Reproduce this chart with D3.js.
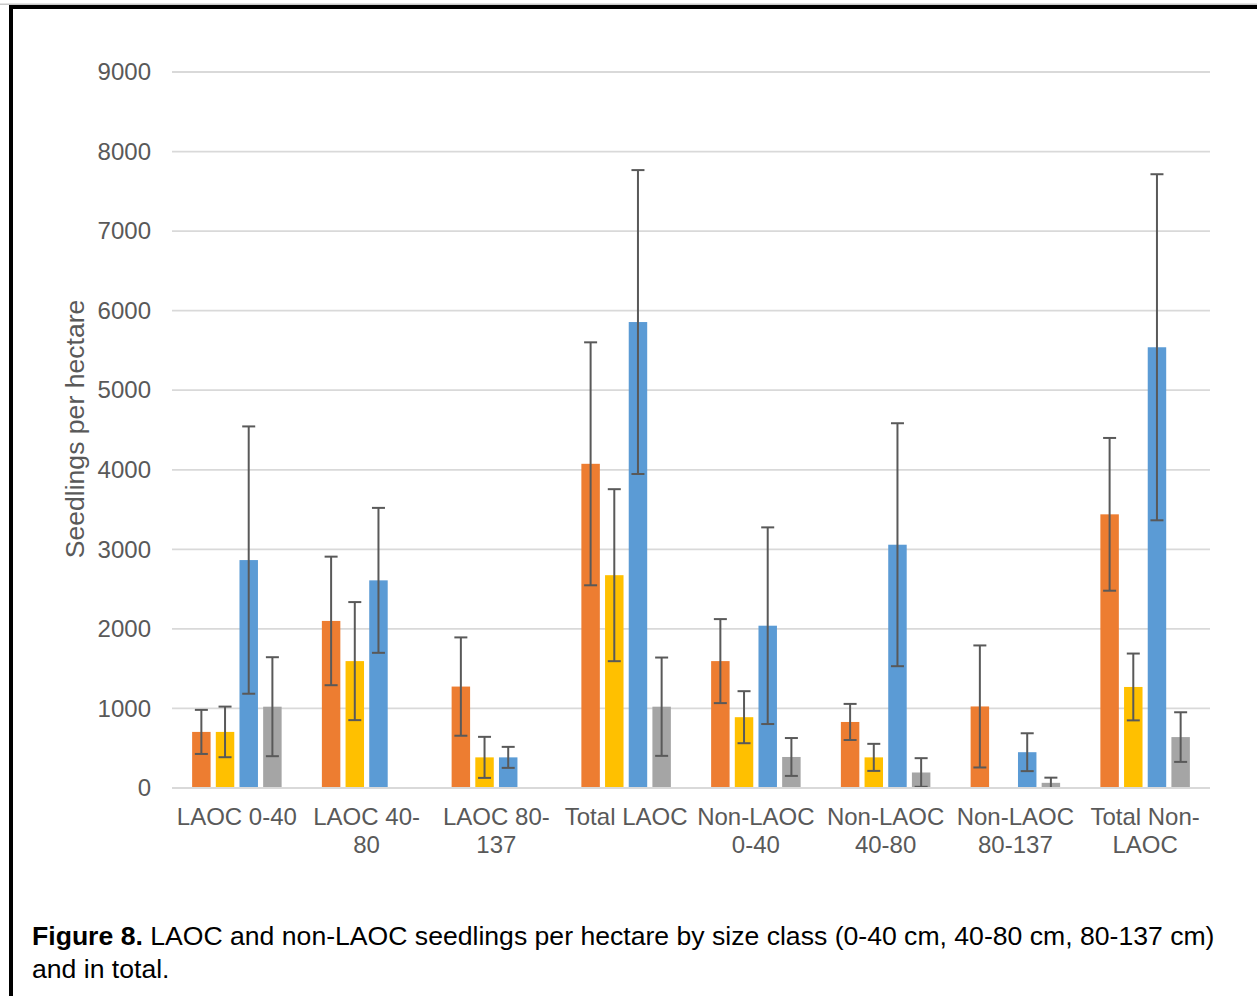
<!DOCTYPE html>
<html>
<head>
<meta charset="utf-8">
<script src="https://cdn.jsdelivr.net/npm/d3@7"></script>
<style>
  html, body { margin: 0; padding: 0; background: #fff; }
  svg { display: block; }
  text { font-family: "Liberation Sans", Arial, sans-serif; }
</style>
</head>
<body>
<svg id="chart" width="1257" height="996"></svg>
<script>
// Size classes along the x axis (each label wraps onto lines)
const categories = ["LAOC 0-40", "LAOC 40-80", "LAOC 80-137", "Total LAOC",
  "Non-LAOC 0-40", "Non-LAOC 40-80", "Non-LAOC 80-137", "Total Non-LAOC"];
const categoryLines = [["LAOC 0-40"], ["LAOC 40-", "80"], ["LAOC 80-", "137"], ["Total LAOC"],
  ["Non-LAOC", "0-40"], ["Non-LAOC", "40-80"], ["Non-LAOC", "80-137"], ["Total Non-", "LAOC"]];

const seriesNames = ["s1", "s2", "s3", "s4"];
const seriesColors = ["#ED7D31", "#FFC000", "#5B9BD5", "#A5A5A5"];

// Mean seedlings per hectare for each series, one value per category
const s1Values = [705, 2100, 1275, 4075, 1595, 830, 1025, 3440];
const s2Values = [705, 1595, 385, 2675, 890, 385, 10, 1270];
const s3Values = [2865, 2610, 385, 5857, 2040, 3058, 450, 5540];
const s4Values = [1022, 10, 10, 1022, 390, 195, 65, 640];

// Symmetric error amounts (0 = no error bar)
const s1Errors = [277, 808, 618, 1527, 528, 227, 767, 960];
const s2Errors = [318, 742, 258, 1081, 327, 170, 0, 420];
const s3Errors = [1680, 911, 132, 1910, 1236, 1527, 238, 2175];
const s4Errors = [622, 0, 0, 618, 238, 180, 65, 312];

const yTicks = [0, 1000, 2000, 3000, 4000, 5000, 6000, 7000, 8000, 9000];

const allValues = [s1Values, s2Values, s3Values, s4Values];
const allErrors = [s1Errors, s2Errors, s3Errors, s4Errors];

const svg = d3.select("#chart");

// Frame
svg.append("rect").attr("x", 0).attr("y", 3.5).attr("width", 1257).attr("height", 1.5).attr("fill", "#c8c8c8");
svg.append("rect").attr("x", 9).attr("y", 5).attr("width", 1248).attr("height", 4).attr("fill", "#000");
svg.append("rect").attr("x", 9).attr("y", 5).attr("width", 4).attr("height", 991).attr("fill", "#000");

const plotLeft = 172, plotRight = 1210, plotTop = 72, plotBottom = 788;

const y = d3.scaleLinear().domain([0, 9000]).range([plotBottom, plotTop]);
const x0 = d3.scaleBand().domain(categories).range([plotLeft, plotRight]).padding(0);
const x1 = d3.scaleBand().domain(seriesNames).range([0, x0.bandwidth()])
  .paddingInner(0.22).paddingOuter(0.85);

// Gridlines
svg.append("g").selectAll("line").data(yTicks).join("line")
  .attr("x1", plotLeft).attr("x2", plotRight)
  .attr("y1", d => y(d)).attr("y2", d => y(d))
  .attr("stroke", "#d9d9d9").attr("stroke-width", 1.8);

// Y axis tick labels
const yAxis = d3.axisLeft(y).tickValues(yTicks).tickSize(0).tickPadding(0).tickFormat(d3.format("d"));
const gy = svg.append("g").attr("transform", `translate(151,0)`).call(yAxis);
gy.select(".domain").remove();
gy.selectAll("text").attr("fill", "#595959").style("font-size", "24px")
  .style("font-family", "'Liberation Sans', Arial, sans-serif");

// Y axis title
svg.append("text")
  .attr("transform", "translate(84,429) rotate(-90)")
  .attr("text-anchor", "middle")
  .attr("fill", "#595959").style("font-size", "26.6px")
  .text("Seedlings per hectare");

// Bars
const groups = svg.append("g").selectAll("g").data(categories).join("g")
  .attr("transform", d => `translate(${x0(d)},0)`);

const barData = (c, ci) => seriesNames.map((s, si) => ({
  s, si, v: allValues[si][ci], e: allErrors[si][ci]
}));

groups.each(function(c, ci) {
  const g = d3.select(this);
  const data = barData(c, ci);
  g.selectAll("rect").data(data).join("rect")
    .attr("x", d => x1(d.s))
    .attr("width", x1.bandwidth())
    .attr("y", d => y(d.v))
    .attr("height", d => y(0) - y(d.v))
    .attr("fill", d => seriesColors[d.si]);

  const eb = g.selectAll("g.err").data(data.filter(d => d.e > 0)).join("g").attr("class", "err");
  const cx = d => x1(d.s) + x1.bandwidth() / 2;
  eb.append("line")
    .attr("x1", cx).attr("x2", cx)
    .attr("y1", d => y(d.v + d.e)).attr("y2", d => y(Math.max(0, d.v - d.e)))
    .attr("stroke", "#595959").attr("stroke-width", 2);
  eb.append("line")
    .attr("x1", d => cx(d) - 6.5).attr("x2", d => cx(d) + 6.5)
    .attr("y1", d => y(d.v + d.e)).attr("y2", d => y(d.v + d.e))
    .attr("stroke", "#595959").attr("stroke-width", 2);
  eb.filter(d => d.v - d.e > 0).append("line")
    .attr("x1", d => cx(d) - 6.5).attr("x2", d => cx(d) + 6.5)
    .attr("y1", d => y(d.v - d.e)).attr("y2", d => y(d.v - d.e))
    .attr("stroke", "#595959").attr("stroke-width", 2);
});

// Baseline
svg.append("line").attr("x1", plotLeft).attr("x2", plotRight)
  .attr("y1", y(0)).attr("y2", y(0)).attr("stroke", "#d9d9d9").attr("stroke-width", 1.8);

// Category labels
const xl = svg.append("g").selectAll("text").data(categories).join("text")
  .attr("text-anchor", "middle")
  .attr("fill", "#595959").style("font-size", "24px")
  .attr("x", d => x0(d) + x0.bandwidth() / 2)
  .attr("y", 825);
xl.each(function(d, i) {
  d3.select(this).selectAll("tspan").data(categoryLines[i]).join("tspan")
    .attr("x", x0(d) + x0.bandwidth() / 2)
    .attr("dy", (t, j) => j === 0 ? 0 : 28)
    .text(t => t);
});

// Caption
const cap = svg.append("text").attr("x", 32).attr("y", 945).attr("fill", "#000").style("font-size", "26.6px");
cap.append("tspan").style("font-weight", "bold").text("Figure 8.");
cap.append("tspan").text(" LAOC and non-LAOC seedlings per hectare by size class (0-40 cm, 40-80 cm, 80-137 cm)");
svg.append("text").attr("x", 32).attr("y", 978).attr("fill", "#000").style("font-size", "26.6px")
  .text("and in total.");
</script>
</body>
</html>
